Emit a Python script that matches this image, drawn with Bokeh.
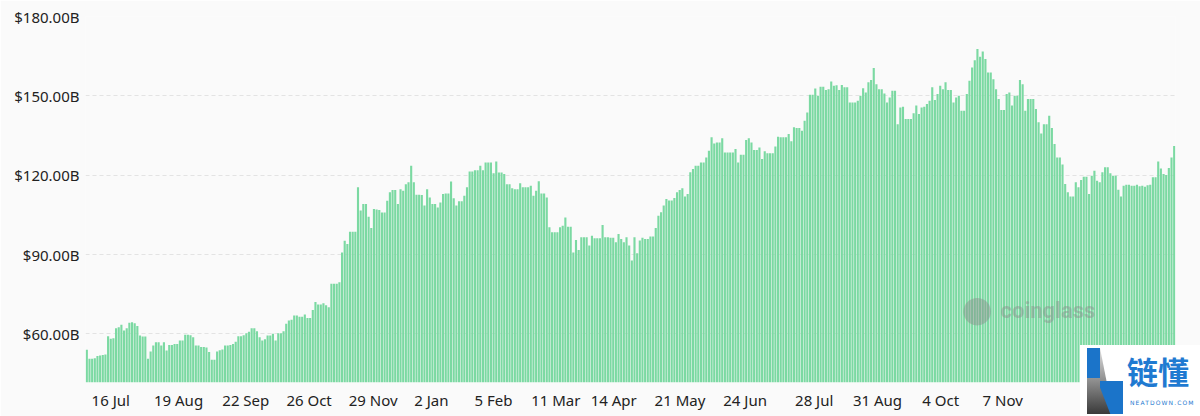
from bokeh.plotting import figure
from bokeh.models import Range1d, FixedTicker, Label, Div, CustomJSTickFormatter
from bokeh.layouts import column
from bokeh.embed import file_html
from bokeh.resources import INLINE

# Daily values, $ billions
values = [
    54.0, 50.6, 50.6, 50.8, 51.6, 51.8, 52.0, 52.2, 59.1, 58.1,
    58.3, 62.1, 62.5, 63.4, 61.3, 62.1, 64.2, 64.4, 64.0, 63.0,
    59.4, 59.0, 59.0, 50.6, 53.3, 55.6, 56.8, 56.8, 55.6, 56.8,
    53.7, 55.8, 55.8, 56.2, 56.2, 57.5, 57.5, 59.7, 59.7, 59.5,
    58.7, 55.6, 55.6, 55.0, 55.0, 54.8, 53.1, 50.2, 50.2, 53.3,
    53.8, 54.1, 55.6, 55.6, 55.8, 56.2, 57.0, 59.1, 59.1, 59.5,
    60.2, 60.8, 62.1, 62.1, 61.0, 58.7, 57.5, 58.0, 59.4, 59.4,
    60.0, 57.5, 60.2, 60.2, 61.0, 63.8, 65.0, 65.3, 66.9, 66.9,
    66.5, 66.5, 67.3, 66.0, 66.0, 69.0, 72.0, 71.1, 71.1, 71.6,
    70.8, 70.1, 78.9, 78.9, 78.9, 79.5, 90.8, 95.2, 94.0, 98.6,
    98.6, 98.6, 115.4, 106.6, 109.1, 109.1, 104.3, 100.0, 107.2, 107.0,
    106.8, 105.9, 105.9, 110.3, 113.5, 114.4, 114.4, 109.1, 114.7, 114.1,
    116.6, 117.3, 123.6, 117.3, 112.6, 112.6, 112.5, 108.5, 114.7, 111.6,
    109.1, 109.1, 107.8, 109.7, 112.9, 113.1, 113.1, 117.6, 111.3, 108.5,
    110.1, 110.1, 112.2, 115.4, 121.4, 121.4, 121.9, 121.9, 123.6, 121.9,
    124.8, 124.8, 124.8, 120.7, 125.2, 121.0, 121.0, 120.4, 116.6, 116.6,
    115.1, 114.7, 114.7, 116.9, 115.4, 115.4, 115.4, 116.0, 112.2, 114.1,
    117.7, 113.1, 113.1, 111.6, 100.3, 98.4, 98.4, 98.4, 100.3, 100.9,
    104.0, 100.5, 100.5, 90.8, 95.5, 91.7, 96.5, 96.5, 96.5, 93.4,
    97.1, 96.1, 96.1, 96.1, 101.2, 96.5, 96.5, 96.3, 96.3, 94.6,
    97.8, 95.9, 94.6, 96.5, 93.4, 87.7, 96.5, 90.5, 95.3, 96.3,
    95.9, 95.9, 96.8, 96.8, 100.0, 104.7, 106.0, 108.5, 111.0, 110.4,
    110.4, 111.4, 113.5, 114.4, 115.1, 111.9, 112.9, 121.1, 122.3, 123.6,
    123.6, 124.8, 124.8, 126.7, 129.2, 134.3, 132.0, 132.4, 132.4, 134.0,
    128.6, 128.6, 128.6, 128.6, 129.9, 124.8, 127.7, 127.7, 133.3, 134.0,
    132.4, 129.5, 129.5, 130.5, 126.1, 129.0, 128.3, 128.3, 128.3, 130.8,
    134.5, 134.3, 134.3, 134.3, 135.6, 132.8, 138.1, 137.8, 137.8, 136.8,
    140.6, 143.7, 150.4, 150.4, 152.8, 150.0, 153.4, 153.4, 152.2, 152.5,
    155.4, 153.8, 154.0, 152.2, 154.1, 153.2, 153.2, 147.5, 147.5, 147.5,
    148.1, 150.0, 152.9, 151.3, 155.1, 156.0, 160.5, 154.4, 152.5, 152.5,
    150.9, 147.5, 149.4, 151.9, 151.9, 139.3, 145.6, 145.9, 141.2, 141.2,
    141.2, 143.4, 146.3, 143.1, 145.6, 145.9, 146.9, 148.1, 153.2, 148.4,
    150.7, 153.8, 152.5, 155.1, 152.2, 152.2, 147.5, 149.4, 150.0, 144.4,
    144.4, 150.7, 155.7, 160.7, 163.5, 167.7, 164.8, 166.8, 163.9, 158.8,
    158.8, 156.3, 152.5, 148.8, 144.6, 144.6, 150.7, 151.3, 146.3, 150.0,
    150.0, 156.0, 154.4, 144.4, 148.8, 148.8, 148.8, 145.0, 140.0, 135.8,
    139.3, 139.3, 142.5, 137.8, 131.8, 126.7, 126.7, 124.0, 116.7, 113.5,
    111.9, 111.9, 117.3, 115.4, 118.2, 119.4, 119.4, 112.9, 119.8, 121.7,
    117.9, 117.3, 121.1, 123.0, 123.0, 120.7, 119.8, 119.8, 114.5, 111.9,
    116.0, 116.4, 116.4, 116.0, 116.0, 116.4, 115.8, 116.0, 115.6, 116.2,
    116.4, 119.2, 119.2, 125.2, 122.5, 120.4, 120.1, 122.7, 126.7, 131.0,
]

# x-axis labels and the bar index each one sits under
tick_labels = ["16 Jul", "19 Aug", "22 Sep", "26 Oct", "29 Nov", "2 Jan", "5 Feb",
               "11 Mar", "14 Apr", "21 May", "24 Jun", "28 Jul", "31 Aug", "4 Oct", "7 Nov"]
tick_index = [9, 34.5, 59.8, 83.6, 107.7, 129.6, 153, 176.4, 198.2, 223.1,
              247.6, 273.6, 297.4, 321.2, 344.5]

y_ticks = [60, 90, 120, 150, 180]
y_min, y_max = 41.6, 180

N = len(values)
idx = list(range(N))

W, H = 1200, 416
LEFT, RIGHT, TOP, BOTTOM = 85, 25, 16, 34
BG = "#fafafa"
BAR = "#7bd9a2"
FONT = "Noto Sans"

p = figure(width=W, height=H, output_backend="svg", toolbar_location=None,
           x_range=Range1d(-0.5, N - 0.5), y_range=Range1d(y_min, y_max),
           min_border_left=LEFT, min_border_right=RIGHT,
           min_border_top=TOP, min_border_bottom=BOTTOM)
p.background_fill_color = BG
p.border_fill_color = BG
p.outline_line_color = None

p.vbar(x=idx, top=values, bottom=y_min, width=0.8, color=BAR, line_color=None)

p.xaxis.ticker = FixedTicker(ticks=tick_index)
p.xaxis.major_label_overrides = {t: l for t, l in zip(tick_index, tick_labels)}
p.yaxis.ticker = FixedTicker(ticks=y_ticks)
p.yaxis.formatter = CustomJSTickFormatter(code="return '$' + tick.toFixed(2) + 'B';")

for ax in (p.xaxis, p.yaxis):
    ax.axis_line_color = None
    ax.major_tick_line_color = None
    ax.minor_tick_line_color = None
    ax.major_tick_out = 0
    ax.major_tick_in = 0
    ax.major_label_text_font = FONT
    ax.major_label_text_font_size = "15px"
    ax.major_label_text_color = "#222222"
p.xaxis.major_label_standoff = 7
p.yaxis.major_label_standoff = 6

p.xgrid.grid_line_color = None
p.ygrid.grid_line_color = "#e3e3e3"
p.ygrid.grid_line_dash = "4 3"
p.ygrid.grid_line_width = 1

# coinglass watermark
p.add_layout(Label(x=1000 - LEFT, y=H - BOTTOM - 322, x_units="screen", y_units="screen",
                   text="coinglass", text_font="Roboto", text_font_style="bold",
                   text_font_size="22px", text_color="#8a8a8a", text_alpha=0.45))
p.add_layout(Label(x=961 - LEFT, y=H - BOTTOM - 328, x_units="screen", y_units="screen",
                   text="●", text_font="DejaVu Sans", text_font_size="36px",
                   text_color="#8a8a8a", text_alpha=0.45))

# neatdown logo overlay (bottom-right corner)
logo_html = """
<div style="position:relative;margin:0;padding:0;width:120px;height:71px;background:#ffffff;overflow:hidden;">
  <div style="position:absolute;left:7px;top:3px;width:26px;height:66px;
              background:linear-gradient(#e0e0e0,#3a3a3a);
              clip-path:polygon(0 0,50% 0,100% 100%,0 100%);"></div>
  <div style="position:absolute;left:7px;top:3px;width:13px;height:30px;background:#1b74c9;"></div>
  <div style="position:absolute;left:20px;top:36px;width:23px;height:33px;background:#1b74c9;
              clip-path:polygon(0 0,35% 0,100% 0,100% 100%,45% 100%,0 20%);"></div>
  <div style="position:absolute;left:47px;top:10px;font-family:'Noto Sans CJK SC';font-size:31px;
              line-height:32px;color:#1f7ad1;font-weight:bold;">链懂</div>
  <div style="position:absolute;left:50px;top:54px;font-family:'DejaVu Sans';font-size:6px;
              letter-spacing:1.1px;color:#1f7ad1;white-space:nowrap;">NEATDOWN.COM</div>
</div>
"""
logo = Div(text=logo_html, width=120, height=71,
           styles={"position": "absolute", "left": "1080px", "top": "345px",
                   "margin": "0px", "padding": "0px", "z-index": "10"})

layout = column(p, logo)
open("out.html", "w").write(file_html(layout, INLINE))
